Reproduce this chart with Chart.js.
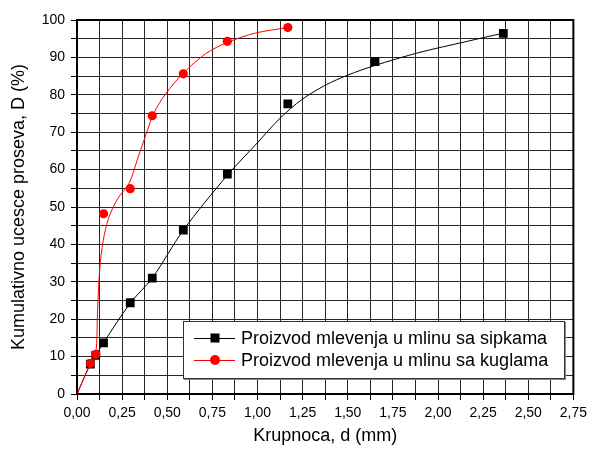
<!DOCTYPE html>
<html>
<head>
<meta charset="utf-8">
<script src="https://cdn.jsdelivr.net/npm/chart.js@4"></script>
<style>
  body { margin: 0; background: #fff; }
  #wrap { position: relative; width: 592px; height: 452px; }
  #legend {
    position: absolute; left: 183px; top: 321px; width: 380px; height: 51px;
    background: #fff; border: 1px solid #333; box-shadow: 1px 1px 0 #888;
    font-family: "Liberation Sans", Arial, sans-serif; font-size: 18px; color: #000;
    padding-top: 5px; box-sizing: content-box;
  }
  .row { display: flex; align-items: center; height: 22px; }
  .sym { position: relative; width: 41px; height: 22px; margin: 0 6px 0 10px; }
  .sym .ln { position: absolute; left: 0; right: 0; top: 11px; height: 1px; }
  .sym .mk { position: absolute; left: 50%; top: 11px; transform: translate(-50%, -50%); }
</style>
</head>
<body>
<div id="wrap">
  <canvas id="c" width="592" height="452"></canvas>
  <div id="legend"></div>
</div>
<script>
// Zrnasti sastav (sitove serije Tyler, mm)
const seriesNames = ['Proizvod mlevenja u mlinu sa sipkama', 'Proizvod mlevenja u mlinu sa kuglama'];

// Mlin sa sipkama - izmerene tacke
const rodX = [0.074, 0.104, 0.147, 0.295, 0.417, 0.589, 0.833, 1.168, 1.651, 2.362];
const rodY = [8.0, 10.3, 13.7, 24.4, 31.0, 43.8, 58.8, 77.6, 88.9, 96.4];
// Mlin sa sipkama - kriva (ocitano sa slike)
const rodFitX = [0, 0.074, 0.104, 0.147, 0.295, 0.417, 0.589, 0.833, 1.0, 1.126, 1.245, 1.373, 1.502, 1.648, 1.887, 2.162, 2.362];
const rodFitY = [0, 8.0, 10.3, 13.7, 24.3, 31.0, 43.8, 58.5, 67.2, 73.8, 78.7, 82.5, 85.3, 87.8, 91.2, 94.3, 96.5];

// Mlin sa kuglama - izmerene tacke
const ballX = [0, 0.074, 0.104, 0.147, 0.295, 0.417, 0.589, 0.833, 1.168];
const ballY = [0, 8.2, 10.6, 48.2, 54.9, 74.4, 85.6, 94.3, 98.0];
// Mlin sa kuglama - kriva (ocitano sa slike)
const ballFitX = [0, 0.074, 0.104, 0.114, 0.126, 0.145, 0.175, 0.225, 0.29, 0.335, 0.383, 0.425, 0.49, 0.589, 0.713, 0.833, 0.988, 1.168];
const ballFitY = [0, 8.2, 10.8, 22.5, 33.5, 41.0, 47.0, 52.2, 56.5, 62.8, 69.5, 75.0, 80.2, 85.8, 91.0, 94.0, 96.5, 98.0];

// Ose
const xMin = 0, xMax = 2.75, xStep = 0.125, xLabelStep = 0.25;
const yMin = 0, yMax = 100, yStep = 5, yLabelStep = 10;

const pts = (xs, ys) => xs.map((x, i) => ({ x: x, y: ys[i] }));
const isMult = (v, s) => Math.abs(v / s - Math.round(v / s)) < 1e-6;
const FONT = '"Liberation Sans", Arial, sans-serif';

const frame = {
  id: 'frame',
  afterDraw(chart) {
    const a = chart.chartArea, ctx = chart.ctx;
    ctx.save();
    ctx.strokeStyle = '#000';
    ctx.lineWidth = 2;
    ctx.strokeRect(a.left, a.top, a.right - a.left, a.bottom - a.top);
    ctx.restore();
  }
};

new Chart(document.getElementById('c'), {
  type: 'scatter',
  data: {
    datasets: [
      { label: seriesNames[1], data: pts(ballX, ballY), showLine: false,
        pointStyle: 'circle', pointRadius: c => (c.raw && c.raw.x === 0 ? 2 : 4.6),
        backgroundColor: '#ff0000', borderColor: '#ff0000', borderWidth: 0 },
      { label: seriesNames[1] + ' fit', data: pts(ballFitX, ballFitY), showLine: true,
        pointRadius: 0, borderColor: '#ff0000', borderWidth: 1, tension: 0.3 },
      { label: seriesNames[0], data: pts(rodX, rodY), showLine: false,
        pointStyle: 'rect', pointRadius: 6.2,
        backgroundColor: '#000', borderColor: '#000', borderWidth: 0 },
      { label: seriesNames[0] + ' fit', data: pts(rodFitX, rodFitY), showLine: true,
        pointRadius: 0, borderColor: '#000', borderWidth: 1, tension: 0.3 }
    ]
  },
  options: {
    responsive: false,
    animation: false,
    layout: { padding: { top: 20, right: 15, left: 0, bottom: 0 } },
    plugins: { legend: { display: false }, tooltip: { enabled: false } },
    scales: {
      x: {
        type: 'linear', min: xMin, max: xMax,
        afterFit: s => { s.height = 58; },
        border: { color: '#000', width: 2 },
        grid: { color: 'rgba(0,0,0,0.85)', lineWidth: 1, tickLength: 6, tickColor: '#000' },
        ticks: {
          stepSize: xStep, autoSkip: false, maxRotation: 0, padding: 5,
          color: '#000', font: { family: FONT, size: 14 },
          callback: v => isMult(v, xLabelStep) ? v.toFixed(2).replace('.', ',') : ''
        },
        title: { display: true, text: 'Krupnoca, d (mm)', color: '#000',
          font: { family: FONT, size: 18 }, padding: { top: 0, bottom: 5 } }
      },
      y: {
        type: 'linear', min: yMin, max: yMax,
        afterFit: s => { s.width = 77; },
        border: { color: '#000', width: 2 },
        grid: { color: 'rgba(0,0,0,0.85)', lineWidth: 1, tickLength: 6, tickColor: '#000' },
        ticks: {
          stepSize: yStep, autoSkip: false, padding: 6,
          color: '#000', font: { family: FONT, size: 14 },
          callback: v => isMult(v, yLabelStep) ? String(v) : ''
        },
        title: { display: true, text: 'Kumulativno ucesce proseva, D (%)', color: '#000',
          font: { family: FONT, size: 18 }, padding: { top: 8, bottom: 0 } }
      }
    }
  },
  plugins: [frame]
});

// Legenda
const legendStyles = [
  { color: '#000', mark: 'width:9px;height:9px;background:#000;' },
  { color: '#ff0000', mark: 'width:10px;height:10px;border-radius:50%;background:#ff0000;' }
];
document.getElementById('legend').innerHTML = seriesNames.map((name, i) =>
  '<div class="row"><span class="sym"><span class="ln" style="background:' + legendStyles[i].color +
  '"></span><span class="mk" style="' + legendStyles[i].mark + '"></span></span><span>' + name + '</span></div>'
).join('');
</script>
</body>
</html>
